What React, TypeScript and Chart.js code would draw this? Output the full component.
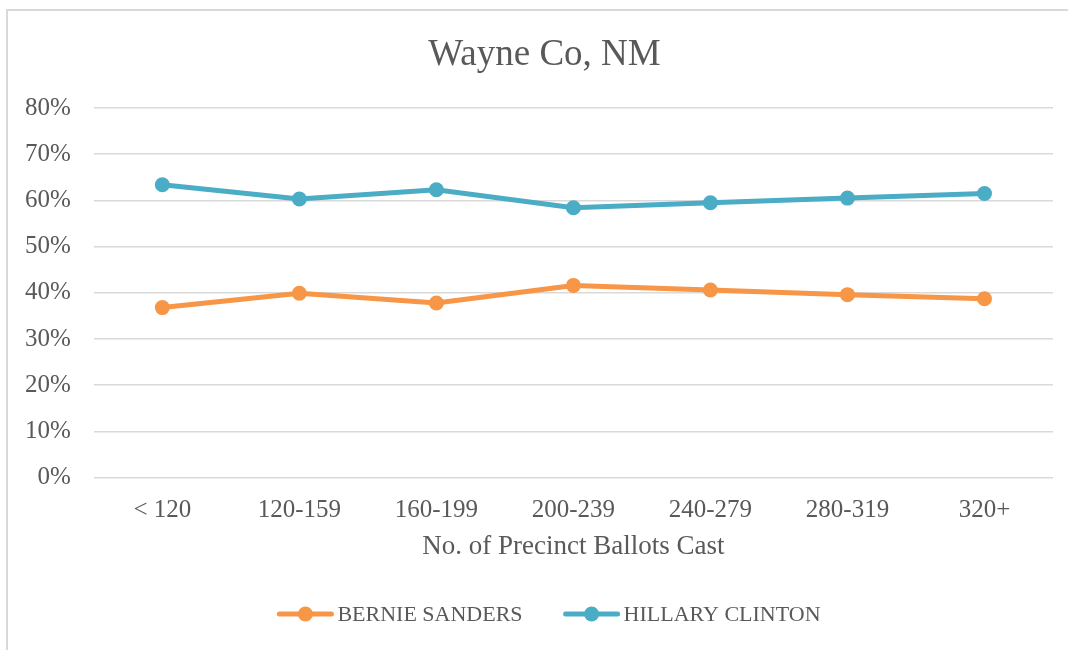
import React, { useEffect, useRef } from "react";
import { Chart, registerables } from "chart.js";

Chart.register(...registerables);

const categories = ["< 120", "120-159", "160-199", "200-239", "240-279", "280-319", "320+"];
const bernieValues = [36.8, 39.9, 37.8, 41.6, 40.6, 39.6, 38.7];
const hillaryValues = [63.4, 60.3, 62.3, 58.4, 59.5, 60.5, 61.5];
const seriesNames = ["BERNIE SANDERS", "HILLARY CLINTON"];
const titleText = "Wayne Co, NM";
const xTitleText = "No. of Precinct Ballots Cast";

const ORANGE = "#F79646";
const BLUE = "#4BACC6";
const TEXT = "#595959";
const GRID = "#d9d9d9";
const FONT = "'Liberation Serif', 'Times New Roman', serif";

// Title centred on the full chart frame (which extends past the right edge).
const frameTitle = {
  id: "frameTitle",
  afterDraw(chart: any) {
    const ctx = chart.ctx as CanvasRenderingContext2D;
    ctx.save();
    ctx.font = `37px ${FONT}`;
    ctx.fillStyle = TEXT;
    ctx.textAlign = "center";
    ctx.textBaseline = "middle";
    ctx.fillText(titleText, chart.width / 2 + 10.5, 55);
    ctx.restore();
  },
};

const lineLegend = {
  id: "lineLegend",
  afterDraw(chart: any) {
    const ctx = chart.ctx as CanvasRenderingContext2D;
    const y = 614;
    const markerW = 56;
    const textGap = 4;
    const itemGap = 41;
    ctx.save();
    ctx.font = `22px ${FONT}`;
    const items = chart.data.datasets.map((ds: any) => ({
      label: ds.label as string,
      color: ds.borderColor as string,
      w: ctx.measureText(ds.label).width,
    }));
    const total =
      items.reduce((s: number, it: any) => s + markerW + textGap + it.w, 0) + itemGap * (items.length - 1);
    let x = chart.width / 2 + 15 - total / 2;
    items.forEach((it: any) => {
      ctx.strokeStyle = it.color;
      ctx.fillStyle = it.color;
      ctx.lineWidth = 5;
      ctx.lineCap = "round";
      ctx.beginPath();
      ctx.moveTo(x + 2, y);
      ctx.lineTo(x + markerW - 2, y);
      ctx.stroke();
      ctx.beginPath();
      ctx.arc(x + markerW / 2, y, 7.5, 0, Math.PI * 2);
      ctx.fill();
      ctx.fillStyle = TEXT;
      ctx.textBaseline = "middle";
      ctx.textAlign = "left";
      ctx.fillText(it.label, x + markerW + textGap, y + 1);
      x += markerW + textGap + it.w + itemGap;
    });
    ctx.restore();
  },
};

export default function App() {
  const ref = useRef<HTMLCanvasElement | null>(null);

  useEffect(() => {
    document.body.style.margin = "0";
    const chart = new Chart(ref.current!, {
      type: "line",
      data: {
        labels: categories,
        datasets: [
          {
            label: seriesNames[0],
            data: bernieValues,
            borderColor: ORANGE,
            backgroundColor: ORANGE,
            borderWidth: 5,
            pointRadius: 7.5,
            pointBorderWidth: 0,
            pointBackgroundColor: ORANGE,
            tension: 0,
          },
          {
            label: seriesNames[1],
            data: hillaryValues,
            borderColor: BLUE,
            backgroundColor: BLUE,
            borderWidth: 5,
            pointRadius: 7.5,
            pointBorderWidth: 0,
            pointBackgroundColor: BLUE,
            tension: 0,
          },
        ],
      },
      plugins: [frameTitle, lineLegend],
      options: {
        animation: false,
        responsive: false,
        layout: { padding: { left: 2, right: 15, top: 108, bottom: 77 } },
        plugins: {
          title: { display: false },
          legend: { display: false },
          tooltip: { enabled: false },
        },
        scales: {
          x: {
            offset: true,
            grid: { display: false, drawTicks: false },
            border: { display: false },
            ticks: { color: TEXT, font: { family: FONT, size: 25 }, padding: 18 },
            title: {
              display: true,
              text: xTitleText,
              color: TEXT,
              font: { family: FONT, size: 27 },
              padding: { top: -13, bottom: 10 },
            },
          },
          y: {
            min: 0,
            max: 80,
            grid: { color: GRID, lineWidth: 1.5, drawTicks: false },
            border: { display: false },
            ticks: {
              stepSize: 10,
              color: TEXT,
              font: { family: FONT, size: 25 },
              padding: 23,
              callback: (v: any) => `${v}%`,
            },
          },
        },
      },
    });
    return () => chart.destroy();
  }, []);

  return (
    <div style={{ position: "relative", width: 1068, height: 650, overflow: "hidden", background: "#fff" }}>
      <div
        style={{
          position: "absolute",
          left: 6,
          top: 9,
          width: 1100,
          height: 700,
          borderLeft: `2px solid ${GRID}`,
          borderTop: `2px solid ${GRID}`,
          boxSizing: "border-box",
        }}
      />
      <canvas ref={ref} width={1068} height={650} style={{ position: "absolute", left: 0, top: 0 }} />
    </div>
  );
}
